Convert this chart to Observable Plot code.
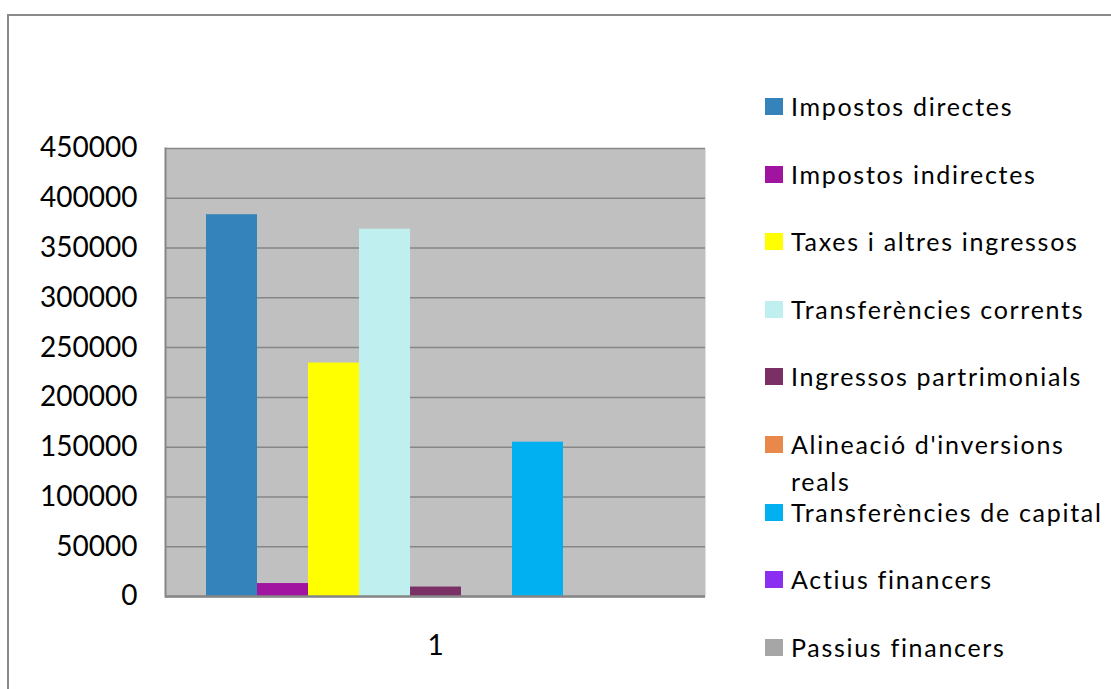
<!DOCTYPE html>
<html>
<head>
<meta charset="utf-8">
<script src="https://cdn.jsdelivr.net/npm/d3@7"></script>
<script src="https://cdn.jsdelivr.net/npm/@observablehq/plot@0.6"></script>
<style>
  body { margin: 0; background: #fff; font-family: Lato, "Open Sans", sans-serif; }
  #wrap { position: relative; width: 1111px; height: 689px; overflow: hidden; }
  #border { position: absolute; left: 7px; top: 14px; width: 1200px; height: 800px;
            border-top: 2px solid #8a8a8a; border-left: 2px solid #8a8a8a; box-sizing: border-box; }
  #chart { position: absolute; left: 0; top: 0; }
  .leg { position: absolute; left: 765px; display: flex; align-items: flex-start; font-size: 25px; letter-spacing: 1.7px; color: #000; line-height: 37px; }
  .leg .sw { width: 18px; height: 17px; margin-top: 10px; margin-right: 8px; flex: none; }
  .leg .tx { width: 322px; }
</style>
</head>
<body>
<div id="wrap">
  <div id="border"></div>
  <div id="chart"></div>
  <div id="legend"></div>
</div>
<script>
const groups = ["1"];
const series = [
  "Impostos directes",
  "Impostos indirectes",
  "Taxes i altres ingressos",
  "Transferències corrents",
  "Ingressos partrimonials",
  "Alineació d'inversions reals",
  "Transferències de capital",
  "Actius financers",
  "Passius financers"
];
const values = [383500, 13000, 234500, 369000, 9500, 0, 155000, 0, 0];
const colors = ["#3483BB", "#A0149F", "#FFFF00", "#BFEFEF", "#7A3064", "#E8884A", "#00B0F0", "#8A2EF2", "#A6A6A6"];
const yTicks = [0, 50000, 100000, 150000, 200000, 250000, 300000, 350000, 400000, 450000];

const data = series.map((s, i) => ({group: groups[0], series: s, value: values[i]}));

const chart = Plot.plot({
  width: 1111,
  height: 689,
  marginLeft: 165,
  marginRight: 406,
  marginTop: 148,
  marginBottom: 93,
  style: {fontFamily: "Lato, 'Open Sans', sans-serif", background: "transparent", color: "#000"},
  fx: {domain: groups, padding: 0, label: null},
  x: {domain: series, paddingInner: 0, paddingOuter: 0.75, axis: null},
  y: {domain: [0, 450000], label: null},
  color: {domain: series, range: colors},
  marks: [
    Plot.frame({fill: "#c0c0c0", stroke: "none"}),
    Plot.gridY(yTicks, {stroke: "#868686", strokeOpacity: 1, strokeWidth: 1.5}),
    Plot.barY(data, {fx: "group", x: "series", y: "value", fill: "series", inset: 0}),
    Plot.frame({anchor: "left", stroke: "#868686", strokeWidth: 2}),
    Plot.ruleY([0], {stroke: "#868686", strokeWidth: 2.5}),
    Plot.axisY(yTicks, {tickSize: 0, tickPadding: 28, fontSize: 28, tickFormat: d3.format("d"), label: null}),
    Plot.axisFx({anchor: "bottom", tickSize: 0, tickPadding: 39, fontSize: 28, label: null})
  ]
});
document.getElementById("chart").appendChild(chart);

const legendEl = document.getElementById("legend");
series.forEach((s, i) => {
  const item = document.createElement("div");
  item.className = "leg";
  item.style.top = (88 + i * 67.6) + "px";
  const sw = document.createElement("div");
  sw.className = "sw";
  sw.style.background = colors[i];
  const tx = document.createElement("div");
  tx.className = "tx";
  tx.textContent = s;
  item.appendChild(sw);
  item.appendChild(tx);
  legendEl.appendChild(item);
});
</script>
</body>
</html>
